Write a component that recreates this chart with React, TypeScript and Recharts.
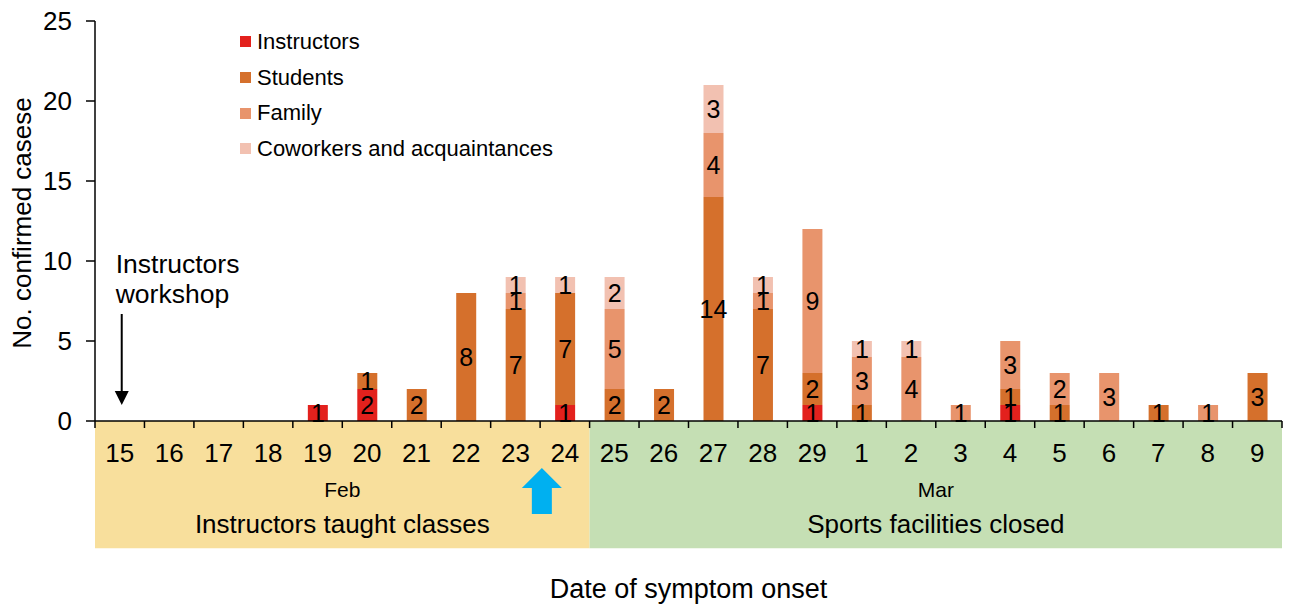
import { BarChart, Bar, XAxis, YAxis, LabelList, ReferenceArea, ReferenceDot, Legend } from "recharts";

// symptom onset dates, Feb 15 – Mar 9
const days = ["15", "16", "17", "18", "19", "20", "21", "22", "23", "24", "25", "26", "27", "28", "29", "1", "2", "3", "4", "5", "6", "7", "8", "9"];
const instructors = [0, 0, 0, 0, 1, 2, 0, 0, 0, 1, 0, 0, 0, 0, 1, 0, 0, 0, 1, 0, 0, 0, 0, 0];
const students = [0, 0, 0, 0, 0, 1, 2, 8, 7, 7, 2, 2, 14, 7, 2, 1, 0, 0, 1, 1, 0, 1, 0, 3];
const family = [0, 0, 0, 0, 0, 0, 0, 0, 1, 0, 5, 0, 4, 1, 9, 3, 4, 1, 3, 2, 3, 0, 1, 0];
const coworkers = [0, 0, 0, 0, 0, 0, 0, 0, 1, 1, 2, 0, 3, 1, 0, 1, 1, 0, 0, 0, 0, 0, 0, 0];
const yTicks = [0, 5, 10, 15, 20, 25];

const SERIES = [
  { key: "instructors", name: "Instructors", color: "#E3211D" },
  { key: "students", name: "Students", color: "#D5702C" },
  { key: "family", name: "Family", color: "#E8946C" },
  { key: "coworkers", name: "Coworkers and acquaintances", color: "#F2C1B1" },
];

const data = days.map((day, i) => ({
  day,
  instructors: instructors[i],
  students: students[i],
  family: family[i],
  coworkers: coworkers[i],
}));

const PLOT_LEFT = 95;
const PLOT_RIGHT = 1282;
const BAND = (PLOT_RIGHT - PLOT_LEFT) / days.length;
const STRIP = -7.95; // depth of the coloured strip under the axis, in y units

function DayTick(props: any) {
  const { x, y, payload, index } = props;
  const top = y - 7;
  return (
    <g>
      <line x1={x - BAND / 2} x2={x - BAND / 2} y1={top} y2={y} stroke="#000" strokeWidth={1.5} />
      {index === days.length - 1 && (
        <line x1={x + BAND / 2} x2={x + BAND / 2} y1={top} y2={y} stroke="#000" strokeWidth={1.5} />
      )}
      <text x={x} y={y + 34} textAnchor="middle" fontSize={26} fill="#000">
        {payload.value}
      </text>
    </g>
  );
}

function StripText(props: any) {
  const { viewBox, month, caption } = props;
  const cx = viewBox.x + viewBox.width / 2;
  return (
    <g>
      <text x={cx} y={viewBox.y + 76} textAnchor="middle" fontSize={21} fill="#000">{month}</text>
      <text x={cx} y={viewBox.y + 112} textAnchor="middle" fontSize={26} fill="#000">{caption}</text>
    </g>
  );
}

function BlueArrow(props: any) {
  const { cx, cy } = props;
  const x = cx - 23;
  const pts = [
    [x, cy + 47], [x + 20, cy + 67], [x + 10, cy + 67], [x + 10, cy + 93],
    [x - 10, cy + 93], [x - 10, cy + 67], [x - 20, cy + 67],
  ].map((p) => p.join(",")).join(" ");
  return <polygon points={pts} fill="#00B0F0" />;
}

function Workshop(props: any) {
  const { cx, cy } = props;
  const ax = cx + 2;
  return (
    <g>
      <text x={cx - 4} y={cy - 148} fontSize={26.5} fill="#000">Instructors</text>
      <text x={cx - 4} y={cy - 118} fontSize={26.5} fill="#000">workshop</text>
      <line x1={ax} x2={ax} y1={cy - 107} y2={cy - 28} stroke="#000" strokeWidth={2} />
      <polygon points={`${ax - 7},${cy - 30} ${ax + 7},${cy - 30} ${ax},${cy - 16}`} fill="#000" />
    </g>
  );
}

function LegendBox() {
  return (
    <div style={{ fontSize: 22, color: "#000" }}>
      {SERIES.map((s) => (
        <div key={s.key} style={{ display: "flex", alignItems: "center", height: 35.7 }}>
          <span style={{ width: 11, height: 11, background: s.color, marginRight: 6 }} />
          {s.name}
        </div>
      ))}
    </div>
  );
}

export default function App() {
  return (
    <div style={{ position: "absolute", left: 0, top: 0, fontFamily: '"Liberation Sans", Arial, sans-serif' }}>
      <BarChart width={1289} height={606} data={data} margin={{ top: 21, right: 1289 - PLOT_RIGHT, bottom: 145, left: 0 }}>
        <ReferenceArea
          x1="15" x2="24" y1={STRIP} y2={0}
          fill="#F8DF9C" fillOpacity={1} stroke="none" ifOverflow="visible"
          label={<StripText month="Feb" caption="Instructors taught classes" />}
        />
        <ReferenceArea
          x1="25" x2="9" y1={STRIP} y2={0}
          fill="#C5DFB4" fillOpacity={1} stroke="none" ifOverflow="visible"
          label={<StripText month="Mar" caption="Sports facilities closed" />}
        />
        <XAxis
          dataKey="day" interval={0} height={40}
          tickLine={false} tickSize={7} tickMargin={0}
          axisLine={{ stroke: "#000", strokeWidth: 1.5 }}
          tick={<DayTick />}
          label={{
            content: (p: any) => (
              <text x={p.viewBox.x + p.viewBox.width / 2} y={p.viewBox.y + 177} textAnchor="middle" fontSize={27} fill="#000">
                Date of symptom onset
              </text>
            ),
          }}
        />
        <YAxis
          width={PLOT_LEFT} domain={[0, 25]} ticks={yTicks} interval={0}
          tickSize={9} tickMargin={14}
          axisLine={{ stroke: "#000", strokeWidth: 1.5 }}
          tickLine={{ stroke: "#000", strokeWidth: 1.5 }}
          tick={{ fill: "#000", fontSize: 26 }}
          label={{
            content: (p: any) => {
              const cy = p.viewBox.y + p.viewBox.height / 2 + 2;
              return (
                <text x={31} y={cy} transform={`rotate(-90 31 ${cy})`} textAnchor="middle" fontSize={26} fill="#000">
                  No. confirmed casese
                </text>
              );
            },
          }}
        />
        {SERIES.map((s) => (
          <Bar key={s.key} dataKey={s.key} name={s.name} stackId="a" fill={s.color} barSize={20} isAnimationActive={false}>
            <LabelList
              dataKey={s.key}
              position="center"
              fill="#000"
              fontSize={25}
              formatter={(v: any) => (v ? v : "")}
            />
          </Bar>
        ))}
        <ReferenceDot x="24" y={0} ifOverflow="visible" shape={<BlueArrow />} />
        <ReferenceDot x="15" y={0} ifOverflow="visible" shape={<Workshop />} />
        <Legend
          layout="vertical" align="center" verticalAlign="middle"
          content={<LegendBox />}
          wrapperStyle={{ left: 240, top: 24, width: "auto" }}
        />
      </BarChart>
    </div>
  );
}
